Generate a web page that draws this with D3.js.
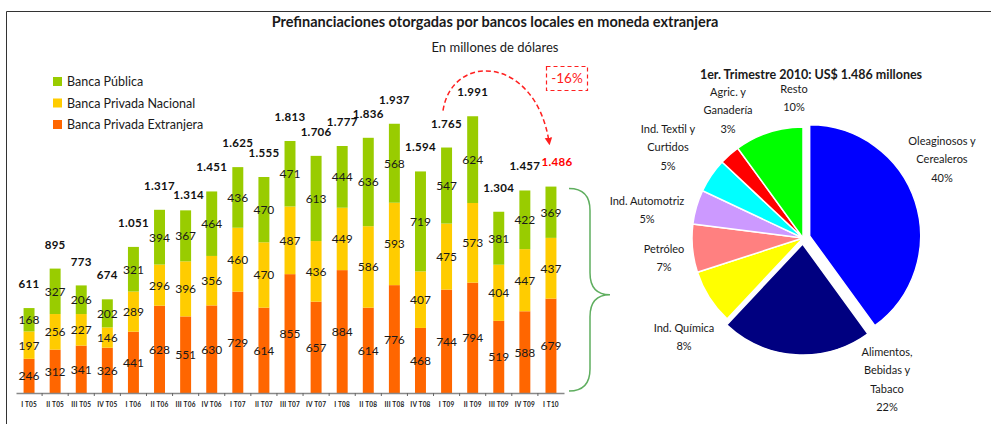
<!DOCTYPE html>
<html>
<head>
<meta charset="utf-8">
<script src="https://cdnjs.cloudflare.com/ajax/libs/d3/7.8.5/d3.min.js"></script>
<style>
  body { margin: 0; background: #fff; }
  svg text { font-family: Lato, "Open Sans", sans-serif; fill: #1a1a1a; }
</style>
</head>
<body>
<svg width="991" height="424"></svg>
<script>
// trimestres
var quarters = ["IT05","IIT05","IIIT05","IVT05","IT06","IIT06","IIIT06","IVT06","IT07","IIT07","IIIT07","IVT07",
                "IT08","IIT08","IIIT08","IVT08","IT09","IIT09","IIIT09","IVT09","IT10"];
var quarterLabels = ["I T05","II T05","III T05","IV T05","I T06","II T06","III T06","IV T06","I T07","II T07","III T07","IV T07",
                "I T08","II T08","III T08","IV T08","I T09","II T09","III T09","IV T09","I T10"];

var extranjera = [246,312,341,326,441,628,551,630,729,614,855,657,884,614,776,468,744,794,519,588,679];
var nacional   = [197,256,227,146,289,296,396,356,460,470,487,436,449,586,593,407,475,573,404,447,437];
var publica    = [168,327,206,202,321,394,367,464,436,470,471,613,444,636,568,719,547,624,381,422,369];
var totals     = [611,895,773,674,1051,1317,1314,1451,1625,1555,1813,1706,1777,1836,1937,1594,1765,1991,1304,1457,1486];

var seriesNames  = ["Banca Pública","Banca Privada Nacional","Banca Privada Extranjera"];
var seriesColors = ["#99cc00","#ffcc00","#ff6600"];

// torta 1er trimestre 2010
var sectors = [
  {name: ["Oleaginosos y","Cerealeros"], pct: 40, color: "#0000ff"},
  {name: ["Alimentos,","Bebidas y","Tabaco"], pct: 22, color: "#000080"},
  {name: ["Ind. Química"], pct: 8, color: "#ffff00"},
  {name: ["Petróleo"], pct: 7, color: "#ff8080"},
  {name: ["Ind. Automotriz"], pct: 5, color: "#cc99ff"},
  {name: ["Ind. Textil y","Curtidos"], pct: 5, color: "#00ffff"},
  {name: ["Agric. y","Ganadería"], pct: 3, color: "#ff0000"},
  {name: ["Resto"], pct: 10, color: "#00ff00"}
];
// label centres (first line) and explode distances
var labelPos = [[942,141],[887,352],[684,328],[664,249],[647,201],[668,129],[728,92],[794,89]];
var explode  = [7,6,0,0,0,0,0,0];

function fmt(v) { return d3.format(",")(v).replace(/,/g, "."); }

var svg = d3.select("svg");

// marco
svg.append("path")
  .attr("d", "M6.5,424 V11.5 H991")
  .attr("fill", "none").attr("stroke", "#333").attr("stroke-width", 1);

svg.append("text").attr("x", 495).attr("y", 27).attr("text-anchor", "middle")
  .style("font-size", "14.5px").style("font-weight", "bold")
  .text("Prefinanciaciones otorgadas por bancos locales en moneda extranjera");
svg.append("text").attr("x", 495).attr("y", 52).attr("text-anchor", "middle")
  .style("font-size", "13px")
  .text("En millones de dólares");

// barras
var x = d3.scaleBand().domain(quarters).range([16, 564]).paddingInner(0.58).paddingOuter(0.29);
var y = d3.scaleLinear().domain([0, 2000]).range([393, 115]);

var rows = quarters.map(function(q, i) {
  return {q: q, extranjera: extranjera[i], nacional: nacional[i], publica: publica[i], total: totals[i]};
});
var stack = d3.stack().keys(["extranjera","nacional","publica"])(rows);
var keyColor = {extranjera: "#ff6600", nacional: "#ffcc00", publica: "#99cc00"};

var layers = svg.append("g").selectAll("g").data(stack).enter().append("g")
  .attr("fill", function(d) { return keyColor[d.key]; });

layers.selectAll("rect").data(function(d) { return d; }).enter().append("rect")
  .attr("x", function(d) { return x(d.data.q); })
  .attr("width", x.bandwidth())
  .attr("y", function(d) { return y(d[1]); })
  .attr("height", function(d) { return y(d[0]) - y(d[1]); });

layers.selectAll("text").data(function(d) { return d; }).enter().append("text")
  .attr("x", function(d) { return x(d.data.q) + x.bandwidth() / 2; })
  .attr("y", function(d) { return (y(d[0]) + y(d[1])) / 2 + 4.5; })
  .attr("text-anchor", "middle")
  .style("font-size", "12px")
  .text(function(d) { return d[1] - d[0]; });

var last = rows.length - 1;
svg.append("g").selectAll("text").data(rows).enter().append("text")
  .attr("x", function(d, i) { return x(d.q) + x.bandwidth() / 2 + (i === last ? 6 : i === 6 ? 3 : 0); })
  .attr("y", function(d, i) { return y(d.total) - 20 + (i === 6 ? 9 : 0); })
  .attr("text-anchor", "middle")
  .style("font-size", "11.5px").style("font-weight", "bold").style("letter-spacing", "0.3px")
  .style("fill", function(d, i) { return i === last ? "#ff0000" : "#111"; })
  .text(function(d) { return fmt(d.total); });

// eje x
var axis = svg.append("g").attr("transform", "translate(0,393)")
  .call(d3.axisBottom(x).tickSize(0).tickPadding(9).tickFormat(function(d, i) { return quarterLabels[i]; }));
axis.select(".domain").attr("stroke", "#888").attr("stroke-width", 1.5);
axis.selectAll("text").style("font-size", "6.5px").style("font-weight", "bold")
  .style("letter-spacing", "0.2px").style("font-family", "Lato, sans-serif").attr("fill", "#222");
axis.selectAll(".bound").data(quarters.slice(1)).enter().append("line")
  .attr("class", "bound")
  .attr("x1", function(d) { return x(d) - x.step() * x.paddingInner() / 2; })
  .attr("x2", function(d) { return x(d) - x.step() * x.paddingInner() / 2; })
  .attr("y1", 0).attr("y2", 3).attr("stroke", "#666");

// leyenda
var legend = svg.append("g").selectAll("g").data(seriesNames).enter().append("g")
  .attr("transform", function(d, i) { return "translate(53," + (77 + i * 21.5) + ")"; });
legend.append("rect").attr("width", 9).attr("height", 9)
  .attr("fill", function(d, i) { return seriesColors[i]; });
legend.append("text").attr("x", 14).attr("y", 9).style("font-size", "12.5px")
  .text(function(d) { return d; });

// flecha -16%
var defs = svg.append("defs");
defs.append("marker").attr("id", "arr").attr("viewBox", "0 0 10 10")
  .attr("refX", 5).attr("refY", 5).attr("markerWidth", 5).attr("markerHeight", 6).attr("orient", "auto")
  .append("path").attr("d", "M0,0 L10,5 L0,10 z").attr("fill", "#ff2020");
svg.append("path")
  .attr("d", "M443," + (y(1765) - 37) + " C452,52 535,55 549," + (y(1486) - 45))
  .attr("fill", "none").attr("stroke", "#ff2020").attr("stroke-width", 1.5)
  .attr("stroke-dasharray", "5,3").attr("marker-end", "url(#arr)");
svg.append("rect").attr("x", 546.5).attr("y", 66.5).attr("width", 41).attr("height", 24)
  .attr("fill", "none").attr("stroke", "#ff2020").attr("stroke-width", 1.2).attr("stroke-dasharray", "4,3");
svg.append("text").attr("x", 567).attr("y", 83).attr("text-anchor", "middle")
  .style("font-size", "13.5px").style("fill", "#ff2020").text("-16%");

// llave verde
var bt = y(1486) + 2, bb = 391, bm = (bt + bb) / 2 + 5;
svg.append("path")
  .attr("d", "M569," + bt + " Q590," + bt + " 590," + (bt + 22) +
             " L590," + (bm - 22) + " Q590," + bm + " 610," + bm +
             " Q590," + bm + " 590," + (bm + 22) +
             " L590," + (bb - 22) + " Q590," + bb + " 569," + bb)
  .attr("fill", "none").attr("stroke", "#5fae5f").attr("stroke-width", 1.5);

// torta
svg.append("text").attr("x", 811).attr("y", 79).attr("text-anchor", "middle")
  .style("font-size", "12.5px").style("font-weight", "bold")
  .text("1er. Trimestre 2010: US$ 1.486 millones");

var pie = d3.pie().sort(null).value(function(d) { return d.pct; });
var arc = d3.arc().innerRadius(0).outerRadius(111);
var pieG = svg.append("g").attr("transform", "translate(803,238)");
pieG.selectAll("path").data(pie(sectors)).enter().append("path")
  .attr("transform", function(d, i) {
    var a = (d.startAngle + d.endAngle) / 2;
    return "translate(" + (Math.sin(a) * explode[i]) + "," + (-Math.cos(a) * explode[i]) + ")";
  })
  .attr("d", arc)
  .attr("fill", function(d) { return d.data.color; })
  .attr("stroke", "#fff").attr("stroke-width", 1.5);

var lbl = svg.append("g").selectAll("text").data(sectors).enter().append("text")
  .attr("text-anchor", "middle")
  .style("font-size", "11px");
lbl.each(function(d, i) {
  var t = d3.select(this);
  var lines = d.name.concat([d.pct + "%"]);
  lines.forEach(function(s, j) {
    t.append("tspan").attr("x", labelPos[i][0]).attr("y", labelPos[i][1] + 4 + j * 18.3).text(s);
  });
});
</script>
</body>
</html>
